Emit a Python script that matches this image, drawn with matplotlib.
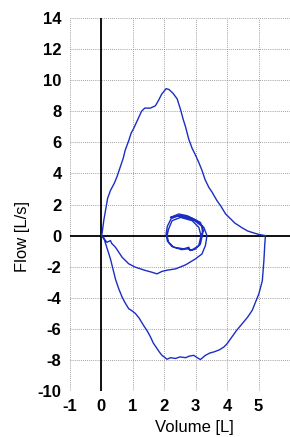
import matplotlib
matplotlib.use("Agg")
import matplotlib.pyplot as plt

plt.rcParams['font.family'] = ['Liberation Sans', 'DejaVu Sans']
plt.rcParams['axes.unicode_minus'] = False

# tidal breathing loops, then inspiratory trace back to the origin
tidal_vol = [3.17, 3.10, 2.89, 2.52, 2.25, 2.14, 2.09, 2.14, 2.30, 2.62, 2.78, 2.83, 2.94, 3.10, 3.17,
             3.25, 3.15, 2.85, 2.50, 2.22, 2.10, 2.06, 2.10, 2.25, 2.55, 2.75, 2.85, 2.98, 3.15, 3.22,
             3.20, 2.95, 2.60, 2.35, 2.20, 2.46, 2.73, 3.04, 3.26, 3.36, 3.31, 3.20]
tidal_flow = [0.0, 0.53, 0.96, 1.17, 0.96, 0.43, 0.0, -0.43, -0.75, -0.85, -0.75, -0.96, -0.85, -0.64, 0.0,
              0.30, 0.85, 1.15, 1.30, 1.10, 0.60, 0.10, -0.35, -0.70, -0.90, -0.85, -0.95, -0.88, -0.55, 0.10,
              0.60, 0.98, 1.22, 1.25, 1.17, 1.39, 1.28, 0.96, 0.53, 0.0, -0.64, -1.18]

insp_vol = [2.99, 2.68, 2.36, 2.10, 1.93, 1.77, 1.60, 1.40, 1.08, 0.87, 0.66, 0.45, 0.33, 0.29, 0.18, 0.06, 0.0]
insp_flow = [-1.50, -1.88, -2.14, -2.22, -2.30, -2.46, -2.35, -2.24, -2.03, -1.81, -1.39, -0.75, -0.50, -0.32, -0.43, -0.15, 0.0]

# forced expiration
exp_vol = [0.02, 0.08, 0.13, 0.20, 0.29, 0.42, 0.50, 0.60, 0.70, 0.76, 0.87, 0.95, 1.03, 1.12, 1.19, 1.28,
           1.38, 1.56, 1.72, 1.82, 1.92, 2.06, 2.15, 2.28, 2.41, 2.52, 2.60, 2.68, 2.78, 2.89, 2.99, 3.10,
           3.20, 3.30, 3.42, 3.52, 3.68, 3.80, 3.95, 4.10, 4.25, 4.48, 4.65, 4.80, 5.00, 5.22]
exp_flow = [0.1, 1.0, 1.6, 2.4, 2.9, 3.4, 3.8, 4.4, 5.0, 5.5, 6.1, 6.6, 6.9, 7.3, 7.6, 8.0,
            8.2, 8.2, 8.35, 8.7, 9.1, 9.45, 9.4, 9.15, 8.8, 8.1, 7.5, 6.98, 6.2, 5.6, 5.2, 4.7,
            4.2, 3.6, 3.1, 2.8, 2.24, 1.9, 1.4, 1.1, 0.8, 0.5, 0.3, 0.2, 0.08, 0.0]

# forced inspiration
finsp_vol = [5.20, 5.17, 5.12, 5.01, 4.90, 4.80, 4.65, 4.48, 4.30, 4.16, 4.00, 3.90, 3.75, 3.58, 3.45,
             3.31, 3.22, 3.15, 3.05, 2.94, 2.80, 2.68, 2.50, 2.36, 2.20, 2.09, 1.93, 1.85, 1.77, 1.65,
             1.56, 1.45, 1.35, 1.20, 1.08, 0.95, 0.87, 0.75, 0.66, 0.55, 0.45, 0.35, 0.29, 0.18, 0.07]
finsp_flow = [-0.5, -1.6, -2.9, -3.74, -4.3, -4.8, -5.25, -5.66, -6.1, -6.5, -6.95, -7.16, -7.35, -7.48, -7.55,
              -7.7, -7.85, -7.97, -7.85, -7.7, -7.75, -7.85, -7.8, -7.9, -7.85, -7.95, -7.7, -7.5, -7.26, -6.9,
              -6.5, -6.1, -5.8, -5.3, -5.0, -4.8, -4.7, -4.3, -3.95, -3.4, -2.8, -2.0, -1.5, -0.8, -0.1]

xticks = [-1, 0, 1, 2, 3, 4, 5]
yticks = list(range(-10, 15, 2))

vol = tidal_vol + insp_vol + exp_vol + finsp_vol
flow = tidal_flow + insp_flow + exp_flow + finsp_flow

fig = plt.figure(figsize=(2.9, 4.37), dpi=100)
ax = fig.add_axes([0.241, 0.105, 0.759, 0.854])

ax.plot(vol, flow, color='#1a2ec4', linewidth=1.0, zorder=3)
ax.axhline(0, color='black', linewidth=1.3, zorder=2)
ax.axvline(0, color='black', linewidth=1.3, zorder=2)

ax.set_xlim(-1, 6)
ax.set_ylim(-10, 14)
ax.set_xticks(xticks)
ax.set_yticks(yticks)
ax.set_xticks(range(-1, 7), minor=True)
ax.grid(True, which='both', linestyle=(0, (1, 1.5)), color='#808080', linewidth=0.6)
for s in ax.spines.values():
    s.set_visible(False)
ax.tick_params(length=0, labelsize=12, pad=6)
for lab in ax.get_xticklabels() + ax.get_yticklabels():
    lab.set_fontweight('bold')

ax.set_xlabel('Volume [L]', fontsize=12)
ax.set_ylabel('Flow [L/s]', fontsize=12)
ax.xaxis.set_label_coords(0.564, -0.078)
ax.yaxis.set_label_coords(-0.18, 0.413)

fig.savefig('out.png', dpi=100)
